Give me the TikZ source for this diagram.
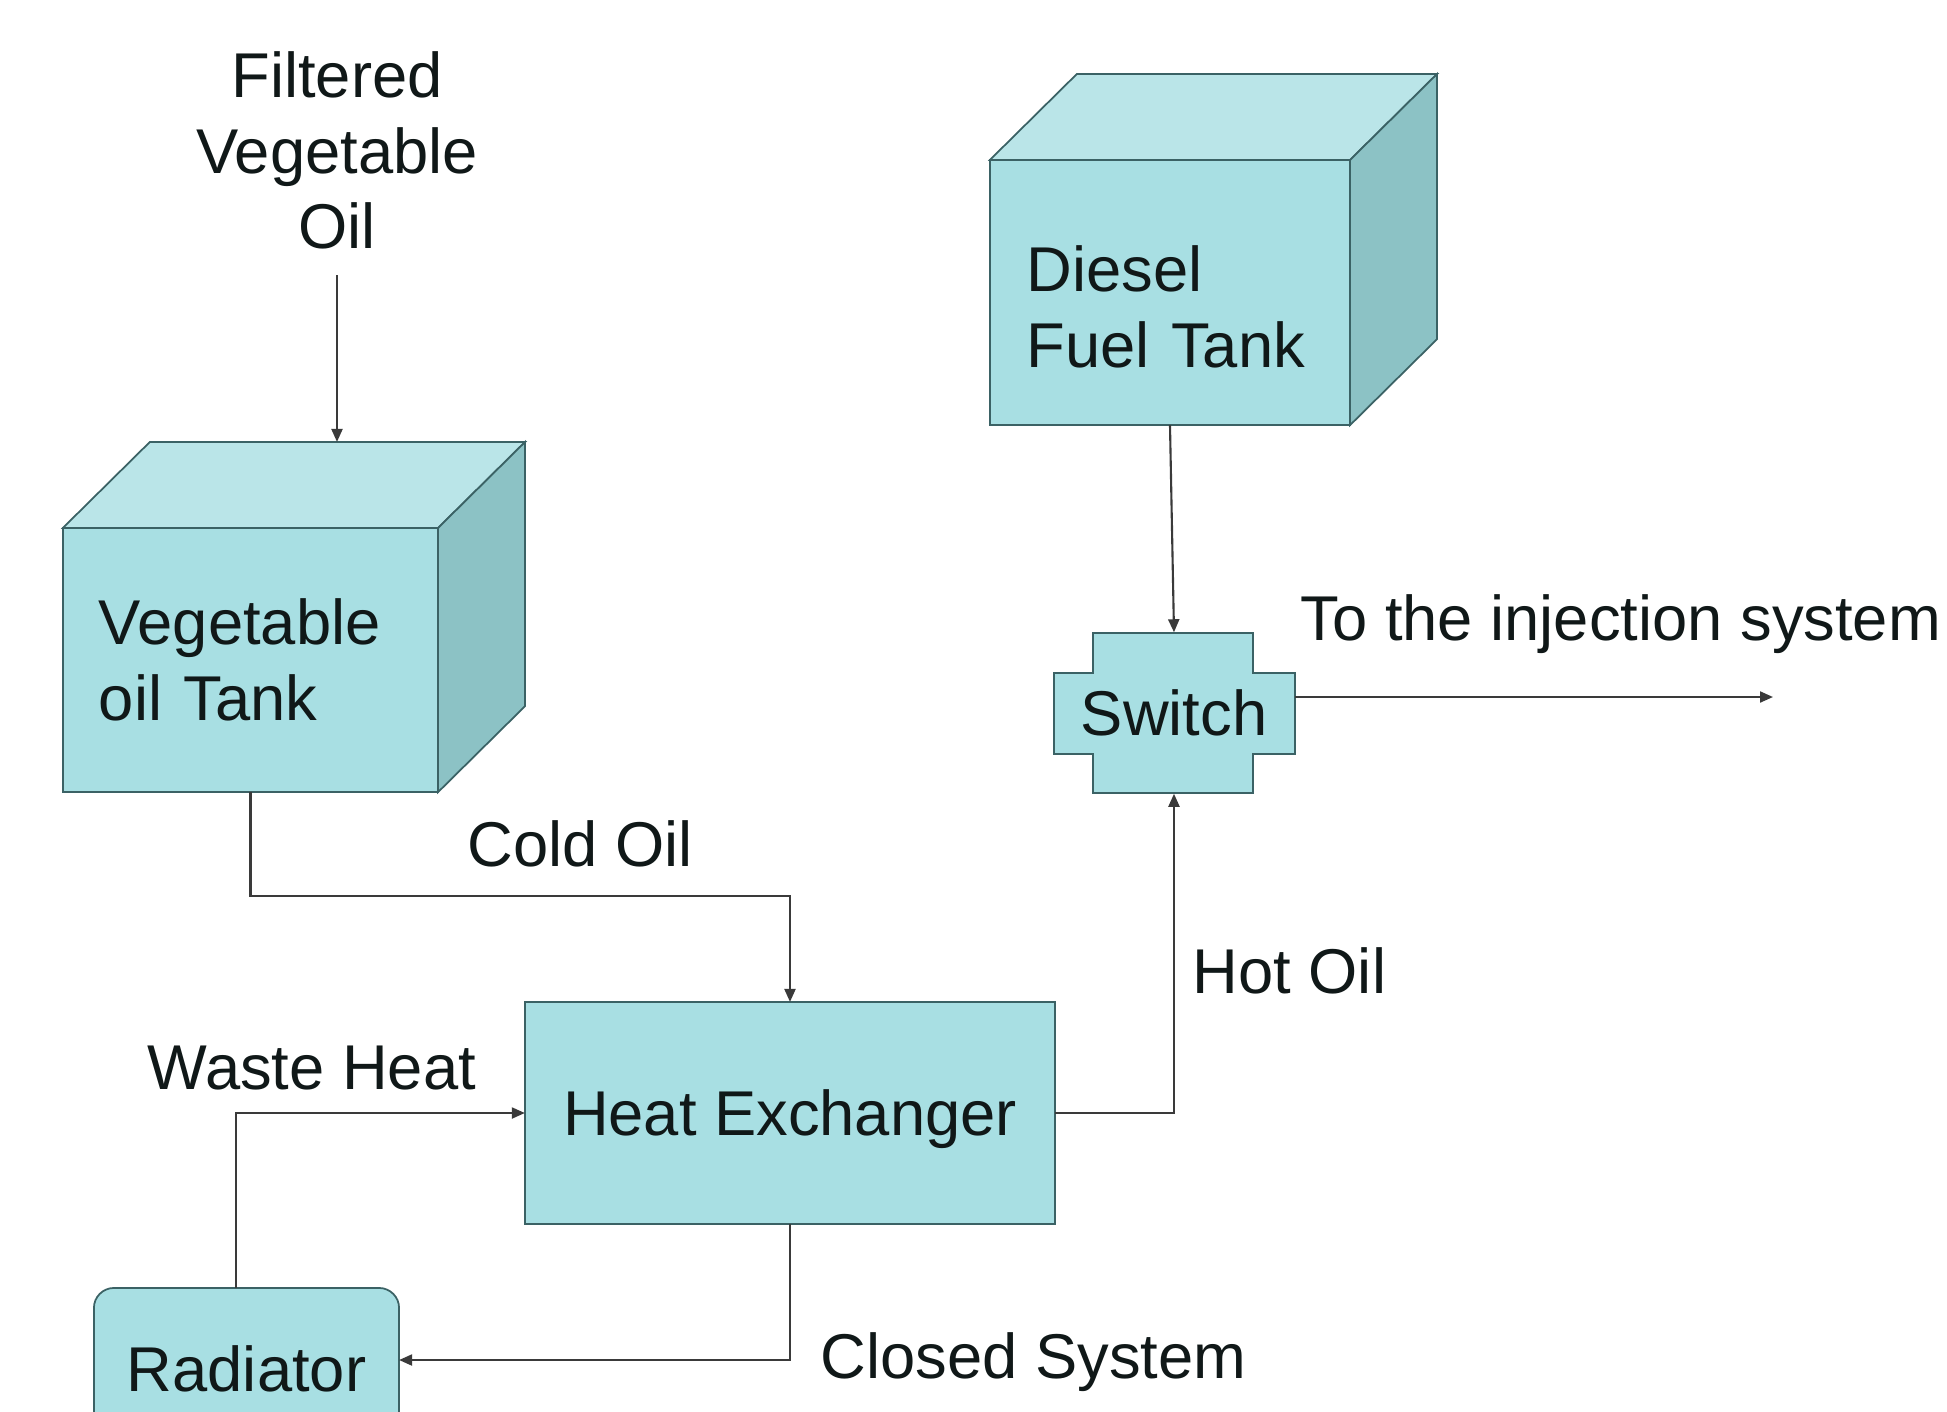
\documentclass[tikz,border=0pt]{standalone}
\usepackage{fontspec}
\setmainfont{Liberation Sans}
\usetikzlibrary{arrows.meta,calc}
\definecolor{boxfront}{HTML}{A8DFE3}
\definecolor{boxtop}{HTML}{BAE5E8}
\definecolor{boxside}{HTML}{8CC2C5}
\definecolor{boxedge}{HTML}{3B6265}
\definecolor{flowline}{HTML}{3A3A3A}
\definecolor{textdark}{HTML}{101818}
\tikzset{every node/.append style={font=\fontsize{18}{21.5}\selectfont,text=textdark}}

\begin{document}
\begin{tikzpicture}[x=0.01cm,y=-0.01cm,>={Triangle[length=0.13cm,width=0.11cm]},
  unit/.style={draw=boxedge,fill=boxfront,line width=0.5pt,outer sep=0pt,inner sep=0pt},
  tank/.style={unit,align=left,inner xsep=0.36cm,text width=3.03cm,minimum height=2.64cm},
  flow/.style={->,draw=flowline,line width=0.6pt},
  lbl/.style={inner sep=0pt}]
\useasboundingbox (0,0) rectangle (1947,1411);
\clip (0,0) rectangle (1947,1411);
% tanks
\node[tank] (veg) at (250.5,660) {Vegetable\\oil Tank};
\node[tank,inner xsep=0.37cm,text width=2.86cm,minimum height=2.65cm] (diesel) at (1170,292.5) {\rule{0pt}{0.74cm}Diesel\\Fuel Tank};
\foreach \t in {veg,diesel} {
  \coordinate (\t TL) at ($(\t.north west)+(87,-86)$);
  \coordinate (\t TR) at ($(\t.north east)+(87,-86)$);
  \coordinate (\t BR) at ($(\t.south east)+(87,-86)$);
  \filldraw[fill=boxtop,draw=boxedge,line width=0.5pt] (\t.north west) -- (\t TL) -- (\t TR) -- (\t.north east) -- cycle;
  \filldraw[fill=boxside,draw=boxedge,line width=0.5pt] (\t.north east) -- (\t TR) -- (\t BR) -- (\t.south east) -- cycle;
}
% switch
\filldraw[fill=boxfront,draw=boxedge,line width=0.5pt] (1093,633) -- (1253,633) -- (1253,673) -- (1295,673)
  -- (1295,754) -- (1253,754) -- (1253,793) -- (1093,793) -- (1093,754) -- (1054,754) -- (1054,673) -- (1093,673) -- cycle;
\node[lbl,minimum width=2.41cm,minimum height=1.6cm] (switch) at (1174,713) {Switch};
% heat exchanger and radiator
\node[unit,minimum width=5.30cm,minimum height=2.22cm,text depth=0pt] (he) at (790,1113) {Heat Exchanger};
\node[unit,rounded corners=0.2cm,minimum width=3.05cm,minimum height=1.62cm] (rad) at (246.5,1369) {Radiator};
% labels
\node[lbl,align=center,anchor=north] (filtered) at (337,51) {Filtered\\Vegetable\\Oil};
\node[lbl,anchor=base west] (coldlbl) at (467,866) {Cold Oil};
\node[lbl,anchor=base west] (hotlbl) at (1192,993) {Hot Oil};
\node[lbl,anchor=base west] (wastelbl) at (147,1089) {Waste Heat};
\node[lbl,anchor=base west] (closedlbl) at (820,1378) {Closed System};
\node[lbl,anchor=base west] (injlbl) at (1300,640) {To the injection system};
% connectors
\coordinate (cold) at (790,896);
\coordinate (waste) at (236,1113);
\coordinate (closed) at (790,1360);
\coordinate (inj) at (1773,697);
\draw[flow] ([yshift=-0.25cm]filtered.south) -- (filtered.south |- vegTL);
\draw[flow] (veg.south) |- (cold) -- (he.north);
\draw[flow] (diesel.south) -- (switch.north);
\draw[flow] (he.east) -| (switch.south);
\draw[flow] (rad.north -| waste) -- (waste) -- (he.west);
\draw[flow] (he.south) -- (closed) -- (closed -| rad.east);
\draw[flow] (inj -| switch.east) -- (inj);
\end{tikzpicture}
\end{document}
